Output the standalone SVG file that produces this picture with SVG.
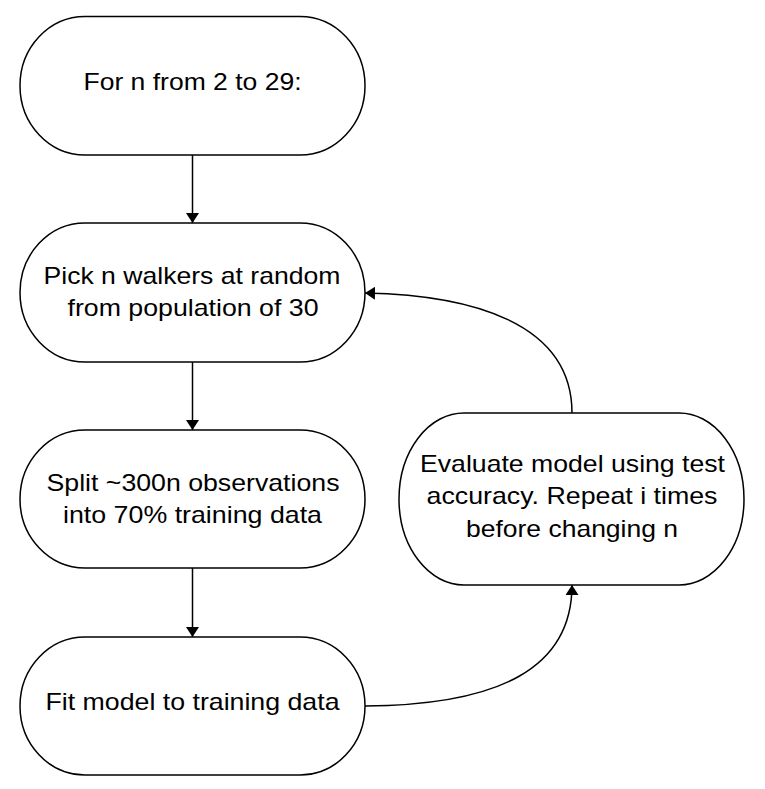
<svg xmlns="http://www.w3.org/2000/svg" width="765" height="789" viewBox="0 0 765 789">
<style>
.n{fill:#fff;stroke:#000;stroke-width:1.5}
.t{font-family:"Liberation Sans",Arial,sans-serif;font-size:24px;fill:#000;text-anchor:middle}
.c{fill:none;stroke:#000;stroke-width:1.5}
</style>
<defs>
<marker id="ah" markerWidth="10" markerHeight="13" viewBox="0 0 10 13" refX="10" refY="6.5" orient="auto" markerUnits="userSpaceOnUse">
<path d="M0,0 L13,6.5 L0,13 Z" transform="scale(0.77,1)" fill="#000"/>
</marker>
</defs>
<rect width="765" height="789" fill="#fff"/>
<g id="connectors">
<path class="c" d="M192.5,155 V223" marker-end="url(#ah)"/>
<path class="c" d="M192.5,362 V430" marker-end="url(#ah)"/>
<path class="c" d="M192.5,568 V637" marker-end="url(#ah)"/>
<path class="c" d="M365,706 C500,705 572,668 572,585" marker-end="url(#ah)"/>
<path class="c" d="M572,413 C572,322 470,295 365,293" marker-end="url(#ah)"/>
</g>
<g id="node1">
<path class="n" d="M85,16.5 H300 A65,69.25 0 0 1 300,155 H85 A65,69.25 0 0 1 85,16.5 Z"/>
<text class="t" x="192.5" y="90" textLength="218" lengthAdjust="spacingAndGlyphs">For n from 2 to 29:</text>
</g>
<g id="node2">
<path class="n" d="M85,223 H300 A65,69.5 0 0 1 300,362 H85 A65,69.5 0 0 1 85,223 Z"/>
<text class="t" x="192" y="284" textLength="297" lengthAdjust="spacingAndGlyphs">Pick n walkers at random</text>
<text class="t" x="193" y="316" textLength="251" lengthAdjust="spacingAndGlyphs">from population of 30</text>
</g>
<g id="node3">
<path class="n" d="M85,430 H300 A65,69 0 0 1 300,568 H85 A65,69 0 0 1 85,430 Z"/>
<text class="t" x="193" y="491" textLength="293" lengthAdjust="spacingAndGlyphs">Split ~300n observations</text>
<text class="t" x="192.5" y="523" textLength="259" lengthAdjust="spacingAndGlyphs">into 70% training data</text>
</g>
<g id="node4">
<path class="n" d="M85,637 H300 A65,69 0 0 1 300,775 H85 A65,69 0 0 1 85,637 Z"/>
<text class="t" x="192.5" y="710" textLength="294" lengthAdjust="spacingAndGlyphs">Fit model to training data</text>
</g>
<g id="node5">
<path class="n" d="M464,413 H679 A65,86 0 0 1 679,585 H464 A65,86 0 0 1 464,413 Z"/>
<text class="t" x="572.5" y="472" textLength="305" lengthAdjust="spacingAndGlyphs">Evaluate model using test</text>
<text class="t" x="572" y="504" textLength="291" lengthAdjust="spacingAndGlyphs">accuracy. Repeat i times</text>
<text class="t" x="572" y="537" textLength="212" lengthAdjust="spacingAndGlyphs">before changing n</text>
</g>
</svg>
